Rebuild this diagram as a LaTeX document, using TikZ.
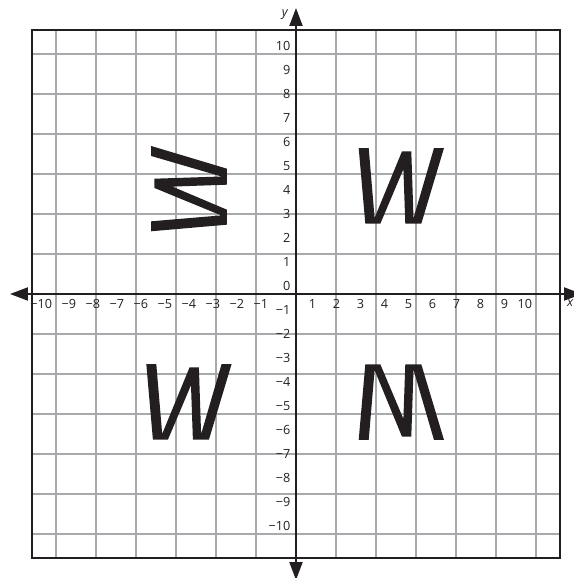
\documentclass[tikz,border=0pt]{standalone}
\usepackage{fontspec}
\setmainfont{Open Sans}
\usepackage{xcolor}
\usetikzlibrary{arrows.meta}

\definecolor{gridgray}{HTML}{A7A9AC}
\definecolor{inkblack}{HTML}{231F20}

\begin{document}
\begin{tikzpicture}[
    x=0.6cm, y=0.6cm,
    every node/.style={font=\fontsize{9}{10}\selectfont, inner sep=0pt, text=inkblack},
    gridline/.style={draw=gridgray, line width=0.9pt},
    frameline/.style={draw=inkblack, line width=1.8pt},
    axisline/.style={draw=inkblack, line width=1.8pt,
        {Triangle[length=4.5mm,width=3.2mm]}-{Triangle[length=4.5mm,width=3.2mm]}},
    wglyph/.pic={
        \fill[inkblack] (2.613,6.083) -- (3.029,6.083) -- (3.275,3.171)
            -- (4.417,5.946) -- (4.804,5.946) -- (4.896,3.158)
            -- (5.750,6.083) -- (6.167,6.083) -- (5.221,2.929)
            -- (4.554,2.929) -- (4.475,5.200) -- (3.513,2.929)
            -- (2.888,2.929) -- cycle;
    }
]
\useasboundingbox (-12.333,-11.833) rectangle (11.583,12.25);

% Grid and frame
\draw[gridline] (-11,-11) grid (11,11);
\draw[frameline] (-11,-11) rectangle (11,11);

% Axes
\coordinate (xleft) at (-11.92,0);
\coordinate (xright) at (11.92,0);
\coordinate (ybottom) at (0,-11.92);
\coordinate (ytop) at (0,11.92);
\draw[axisline] (xleft) -- (xright);
\draw[axisline] (ybottom) -- (ytop);
\node[anchor=north east, font=\fontsize{9}{10}\selectfont\itshape] (xname) at (11.56,-0.22) {x};
\node[anchor=base east, font=\fontsize{9}{10}\selectfont\itshape] (yname) at (-0.33,11.55) {y};

% Axis numbers
\foreach \k in {1,...,10} {
    \node[anchor=north east] (xp\k) at (\k-0.15,-0.22) {\k};
    \node[anchor=north east] (xn\k) at (-\k-0.15,-0.22) {−\k};
    \node[anchor=base east] (yp\k) at (-0.22,\k+0.14) {\k};
    \node[anchor=base east] (yn\k) at (-0.22,-\k+0.16) {−\k};
}
\node[anchor=base east] (yzero) at (-0.22,0.14) {0};

% The four letters
\pic at (0,0) {wglyph};
\pic[rotate=90] at (0.05,0) {wglyph};
\pic at (-8.85,-9) {wglyph};
\pic[yscale=-1] at (0,0) {wglyph};

\end{tikzpicture}
\end{document}
